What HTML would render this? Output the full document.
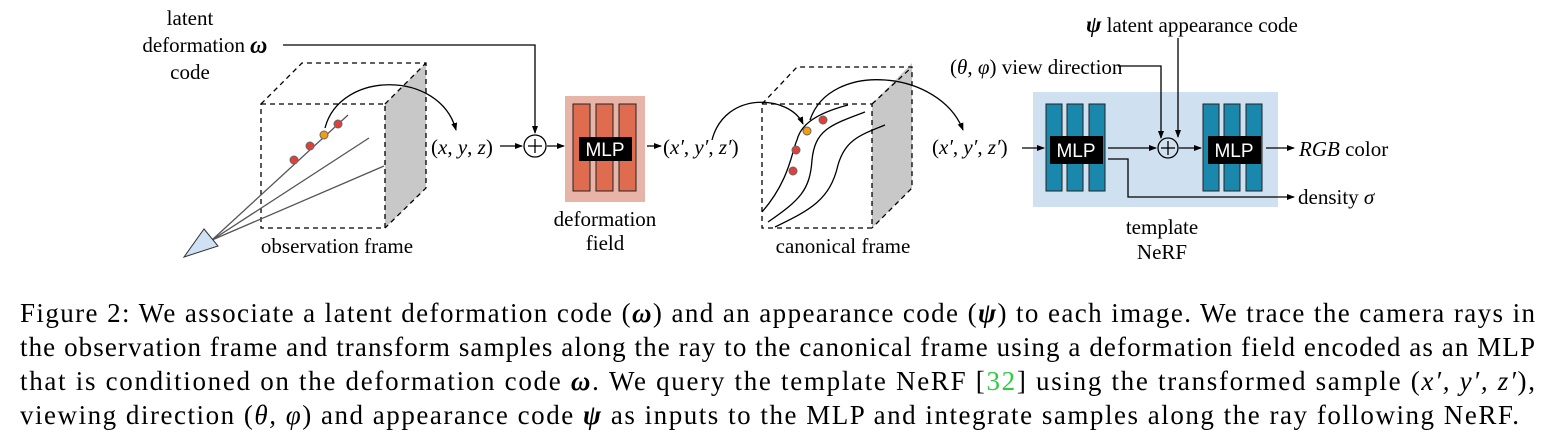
<!DOCTYPE html>
<html><head><meta charset="utf-8"><style>
body{margin:0;background:#fff;}
svg{display:block;font-family:"Liberation Serif",serif;}
</style></head><body>
<svg width="1555" height="447" viewBox="0 0 1555 447">
<defs><marker id="ah" markerWidth="8" markerHeight="8" refX="7" refY="4" orient="auto" markerUnits="userSpaceOnUse"><path d="M0,1 L8,4 L0,7 Z" fill="#000"/></marker></defs>

<g font-size="21">
<text x="190" y="25" text-anchor="middle">latent</text>
<text x="245" y="52" text-anchor="end">deformation</text>
<text x="250" y="53" font-weight="bold" font-size="24" font-style="italic">ω</text>
<text x="190" y="79" text-anchor="middle">code</text>
</g>
<polyline points="283,45 535,45 535,133" fill="none" stroke="#000" stroke-width="1.3" marker-end="url(#ah)"/>

<g>
<polygon points="385,104 426,63 426,188 385,228" fill="#c8c8c8"/>
<g fill="none" stroke="#000" stroke-width="1.3" stroke-dasharray="5,4">
<rect x="261" y="104" width="124" height="124"/>
<polyline points="261,104 302,63 426,63 426,188 385,228"/>
<line x1="385" y1="104" x2="426" y2="63"/>
</g>
<g stroke="#555" stroke-width="1.3">
<line x1="212" y1="240" x2="348" y2="115"/>
<line x1="212" y1="240" x2="369" y2="138"/>
<line x1="212" y1="240" x2="384" y2="166"/>
</g>
<polygon points="184,257 204,229 218,246" fill="#cfe2f3" stroke="#333" stroke-width="1"/>
<g stroke="#666" stroke-width="1"><circle cx="294" cy="160" r="4" fill="#e0403a"/><circle cx="310" cy="146" r="4" fill="#e0403a"/><circle cx="324" cy="135" r="4" fill="#f39c12"/><circle cx="338" cy="124" r="4" fill="#e0403a"/></g>
<path d="M325,128 C340,70 440,70 456,130" fill="none" stroke="#000" stroke-width="1.3" marker-end="url(#ah)"/>
<text x="337" y="253" text-anchor="middle" font-size="21">observation frame</text>
</g>

<text x="431" y="154" font-size="21">(<tspan font-style="italic">x</tspan>, <tspan font-style="italic">y</tspan>, <tspan font-style="italic">z</tspan>)</text>
<line x1="500" y1="146" x2="522" y2="146" stroke="#000" stroke-width="1.3" marker-end="url(#ah)"/>
<g stroke="#000" stroke-width="1.3" fill="none"><circle cx="535" cy="146" r="11"/><line x1="528" y1="146" x2="542" y2="146"/><line x1="535" y1="139" x2="535" y2="153"/></g>
<line x1="547" y1="146" x2="564" y2="146" stroke="#000" stroke-width="1.3" marker-end="url(#ah)"/>

<g>
<rect x="565" y="96" width="80" height="106" fill="#e8b4a8"/>
<g fill="#e06c50" stroke="#222" stroke-width="1"><rect x="573" y="104" width="17" height="87"/><rect x="596" y="104" width="17" height="87"/><rect x="619" y="104" width="17" height="87"/></g>
<rect x="579" y="137" width="53" height="24" fill="#000"/>
<text x="605" y="156" text-anchor="middle" fill="#fff" font-family="Liberation Sans,sans-serif" font-size="19">MLP</text>
<text x="605" y="226" text-anchor="middle" font-size="21">deformation</text>
<text x="605" y="250" text-anchor="middle" font-size="21">field</text>
</g>
<line x1="647" y1="146" x2="661" y2="146" stroke="#000" stroke-width="1.3" marker-end="url(#ah)"/>
<text x="663" y="154" font-size="21">(<tspan font-style="italic">x′</tspan>, <tspan font-style="italic">y′</tspan>, <tspan font-style="italic">z′</tspan>)</text>

<g>
<polygon points="872,104 912,63 912,188 872,228" fill="#c8c8c8"/>
<g fill="none" stroke="#000" stroke-width="1.3" stroke-dasharray="5,4">
<rect x="762" y="104" width="110" height="124"/>
<polyline points="762,104 797,67 912,67 912,188 872,228"/>
<line x1="872" y1="104" x2="912" y2="67"/>
</g>
<g fill="none" stroke="#000" stroke-width="1.3">
<path d="M762,212 C790,180 792,150 797,140 C800,128 810,115 848,105"/>
<path d="M768,222 C800,200 810,190 812,160 C815,130 830,125 865,112"/>
<path d="M775,227 C810,210 830,200 838,165 C845,140 860,135 885,125"/>
</g>
<g stroke="#666" stroke-width="1"><circle cx="793" cy="171" r="4" fill="#e0403a"/><circle cx="796" cy="150" r="4" fill="#e0403a"/><circle cx="807" cy="131" r="4" fill="#f39c12"/><circle cx="823" cy="120" r="4" fill="#e0403a"/></g>
<path d="M712,140 C725,90 790,95 803,124" fill="none" stroke="#000" stroke-width="1.3" marker-end="url(#ah)"/>
<path d="M810,120 C830,60 940,70 963,130" fill="none" stroke="#000" stroke-width="1.3" marker-end="url(#ah)"/>
<text x="843" y="253" text-anchor="middle" font-size="21">canonical frame</text>
</g>

<text x="932" y="154" font-size="21">(<tspan font-style="italic">x′</tspan>, <tspan font-style="italic">y′</tspan>, <tspan font-style="italic">z′</tspan>)</text>

<g>
<rect x="1033" y="92" width="245" height="115" fill="#cfe0f0"/>
<line x1="1022" y1="148" x2="1044" y2="148" stroke="#000" stroke-width="1.3" marker-end="url(#ah)"/>
<g fill="#1a88ad" stroke="#222" stroke-width="1"><rect x="1046" y="104" width="16" height="87"/><rect x="1067" y="104" width="16" height="87"/><rect x="1089" y="104" width="16" height="87"/>
<rect x="1203" y="104" width="16" height="87"/><rect x="1224" y="104" width="16" height="87"/><rect x="1246" y="104" width="16" height="87"/></g>
<rect x="1050" y="136" width="53" height="28" fill="#000"/>
<text x="1076" y="157" text-anchor="middle" fill="#fff" font-family="Liberation Sans,sans-serif" font-size="19">MLP</text>
<rect x="1208" y="136" width="53" height="28" fill="#000"/>
<text x="1234" y="157" text-anchor="middle" fill="#fff" font-family="Liberation Sans,sans-serif" font-size="19">MLP</text>
<line x1="1108" y1="148" x2="1156" y2="148" stroke="#000" stroke-width="1.3" marker-end="url(#ah)"/>
<g stroke="#000" stroke-width="1.3" fill="none"><circle cx="1168" cy="148" r="10"/><line x1="1161" y1="148" x2="1175" y2="148"/><line x1="1168" y1="141" x2="1168" y2="155"/></g>
<line x1="1179" y1="148" x2="1201" y2="148" stroke="#000" stroke-width="1.3" marker-end="url(#ah)"/>
<polyline points="1108,159 1128,159 1128,197 1294,197" fill="none" stroke="#000" stroke-width="1.3" marker-end="url(#ah)"/>
<text x="1162" y="234" text-anchor="middle" font-size="21">template</text>
<text x="1162" y="259" text-anchor="middle" font-size="21">NeRF</text>
</g>
<line x1="1266" y1="148" x2="1294" y2="148" stroke="#000" stroke-width="1.3" marker-end="url(#ah)"/>
<text x="1299" y="156" font-size="21"><tspan font-style="italic">RGB</tspan> color</text>
<text x="1298" y="204" font-size="21">density <tspan font-style="italic">σ</tspan></text>
<text x="1086" y="32" font-size="21"><tspan font-weight="bold" font-style="italic" font-size="23">ψ</tspan>  latent appearance code</text>
<line x1="1178" y1="38" x2="1178" y2="137" stroke="#000" stroke-width="1.3" marker-end="url(#ah)"/>
<text x="950" y="74" font-size="21">(<tspan font-style="italic">θ</tspan>, <tspan font-style="italic">φ</tspan>) view direction</text>
<polyline points="1118,66 1161,66 1161,138" fill="none" stroke="#000" stroke-width="1.3" marker-end="url(#ah)"/>

<g font-size="27">
<text x="20" y="322" textLength="1515" lengthAdjust="spacing">Figure 2: We associate a latent deformation code (<tspan font-weight="bold" font-style="italic">ω</tspan>) and an appearance code (<tspan font-weight="bold" font-style="italic">ψ</tspan>) to each image. We trace the camera rays in</text>
<text x="20" y="356" textLength="1515" lengthAdjust="spacing">the observation frame and transform samples along the ray to the canonical frame using a deformation field encoded as an MLP</text>
<text x="20" y="390" textLength="1515" lengthAdjust="spacing">that is conditioned on the deformation code <tspan font-weight="bold" font-style="italic">ω</tspan>. We query the template NeRF [<tspan fill="#2ecc40">32</tspan>] using the transformed sample (<tspan font-style="italic">x′, y′, z′</tspan>),</text>
<text x="20" y="424" textLength="1499" lengthAdjust="spacing">viewing direction (<tspan font-style="italic">θ, φ</tspan>) and appearance code <tspan font-weight="bold" font-style="italic">ψ</tspan> as inputs to the MLP and integrate samples along the ray following NeRF.</text>
</g>
</svg>
</body></html>
